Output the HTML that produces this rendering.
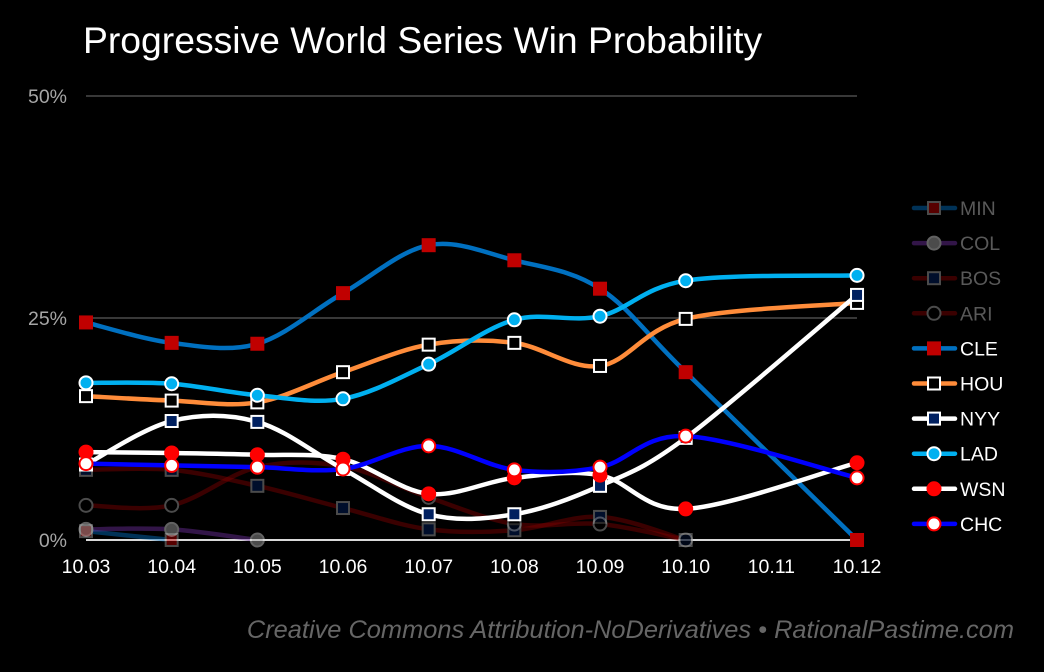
<!DOCTYPE html>
<html><head><meta charset="utf-8"><style>
body{margin:0;background:#000;}
svg{display:block;font-family:"Liberation Sans",Arial,sans-serif;}
</style></head><body>
<svg id="chart" width="1044" height="672" viewBox="0 0 1044 672">
<rect width="1044" height="672" fill="#000"/>
<text x="83" y="53" fill="#fff" font-size="37.3">Progressive World Series Win Probability</text>
<g id="grid"></g>
<g id="series"></g>
<g id="legend"></g>
<text x="1014" y="638" text-anchor="end" fill="#666" font-size="25.4" font-style="italic">Creative Commons Attribution-NoDerivatives • RationalPastime.com</text>
</svg>
<script>
const categories=["10.03","10.04","10.05","10.06","10.07","10.08","10.09","10.10","10.11","10.12"];
const yTicks=[0,25,50];
const teams=["MIN","COL","BOS","ARI","CLE","HOU","NYY","LAD","WSN","CHC"];
const MIN=[1.0,0,null,null,null,null,null,null,null,null];
const COL=[1.2,1.2,0,null,null,null,null,null,null,null];
const BOS=[7.9,7.9,6.1,3.6,1.2,1.1,2.6,0,null,null];
const ARI=[3.9,3.9,8.2,8.3,4.8,1.8,1.8,0,null,null];
const CLE=[24.5,22.2,22.1,27.8,33.2,31.5,28.3,18.9,null,0];
const HOU=[16.2,15.7,15.5,18.9,22.0,22.2,19.6,24.9,null,26.7];
const NYY=[8.5,13.4,13.3,8.0,2.9,2.9,6.1,11.5,null,27.6];
const LAD=[17.7,17.6,16.3,15.9,19.8,24.8,25.2,29.2,null,29.8];
const WSN=[9.9,9.8,9.6,9.1,5.2,7.0,7.3,3.5,null,8.7];
const CHC=[8.6,8.4,8.2,8.0,10.6,7.9,8.2,11.7,null,7.0];
const values=[MIN,COL,BOS,ARI,CLE,HOU,NYY,LAD,WSN,CHC];
const styles=[
 {line:"#0070c0",shape:"sq",fill:"#c00000",stroke:"#a6a6a6",op:0.45},
 {line:"#7030a0",shape:"ci",fill:"#a6a6a6",stroke:"#d9d9d9",op:0.45},
 {line:"#800000",shape:"sq",fill:"#002060",stroke:"#a6a6a6",op:0.45},
 {line:"#800000",shape:"ci",fill:"#000",stroke:"#a6a6a6",op:0.45},
 {line:"#0070c0",shape:"sq",fill:"#c00000",stroke:"#c00000",op:1},
 {line:"#ff8c3a",shape:"sq",fill:"#000",stroke:"#fff",op:1},
 {line:"#ffffff",shape:"sq",fill:"#002060",stroke:"#fff",op:1},
 {line:"#00b0f0",shape:"ci",fill:"#00b0f0",stroke:"#fff",op:1},
 {line:"#ffffff",shape:"ci",fill:"#ff0000",stroke:"#ff0000",op:1},
 {line:"#0000ff",shape:"ci",fill:"#fff",stroke:"#ff0000",op:1}
];
const NS="http://www.w3.org/2000/svg";
function xs(i){return 86+i*85.67;}
function ys(v){return 540-v*8.88;}
function mk(tag,attrs,parent){const e=document.createElementNS(NS,tag);for(const k in attrs)e.setAttribute(k,attrs[k]);parent.appendChild(e);return e;}
const grid=document.getElementById('grid');
yTicks.forEach(t=>{
 const l=mk('line',{x1:86,x2:857,y1:ys(t),y2:ys(t),stroke:t===0?"#d9d9d9":"#595959","stroke-width":t===0?2:1.3},grid);
 
 
 const tx=mk('text',{x:67,y:ys(t)+7,"text-anchor":"end",fill:"#a6a6a6","font-size":19.5},grid);
 tx.textContent=t+"%";
 
 
});
categories.forEach((c,i)=>{
 const tx=mk('text',{x:xs(i),y:573,"text-anchor":"middle",fill:"#fff","font-size":19.5},grid);
 tx.textContent=c;
 
 
});
function pathFor(pts){
 if(pts.length<2)return "";
 let d="M"+pts[0][0]+","+pts[0][1];
 for(let i=0;i<pts.length-1;i++){
  const p0=pts[Math.max(i-1,0)],p1=pts[i],p2=pts[i+1],p3=pts[Math.min(i+2,pts.length-1)];
  const c1=[p1[0]+(p2[0]-p0[0])/6,p1[1]+(p2[1]-p0[1])/6];
  const c2=[p2[0]-(p3[0]-p1[0])/6,p2[1]-(p3[1]-p1[1])/6];
  d+=" C"+c1+" "+c2+" "+p2;
 }
 return d;
}
function marker(s,x,y,parent){
 let m;
 if(s.shape==="sq"){m=mk('rect',{x:x-6,y:y-6,width:12,height:12,fill:s.fill,stroke:s.stroke,"stroke-width":2},parent);}
 else{m=mk('circle',{cx:x,cy:y,r:6.5,fill:s.fill,stroke:s.stroke,"stroke-width":2},parent);}
 return m;
}
const sg=document.getElementById('series');
const lg=document.getElementById('legend');
teams.forEach((t,k)=>{
 const s=styles[k];
 const g=mk('g',{opacity:s.op},sg);
 
 
 const pts=[];
 values[k].forEach((v,i)=>{if(v!==null)pts.push([xs(i),ys(v)]);});
 const p=mk('path',{d:pathFor(pts),fill:"none",stroke:s.line,"stroke-width":4.5,"stroke-linecap":"round"},g);
 
 
 pts.forEach(pt=>{
  const m=marker(s,pt[0],pt[1],g);
  
  
 });
 const ly=208+k*35.1;
 const lgi=mk('g',{},lg);
 
 
 const lgs=mk('g',{opacity:s.op},lgi);
 mk('line',{x1:914,x2:955,y1:ly,y2:ly,stroke:s.line,"stroke-width":4.5,"stroke-linecap":"round"},lgs);
 marker(s,934,ly,lgs);
 const tx=mk('text',{x:960,y:ly+7,fill:s.op<1?"#595959":"#fff","font-size":19.5},lgi);
 tx.textContent=t;
});
</script>
</body></html>
